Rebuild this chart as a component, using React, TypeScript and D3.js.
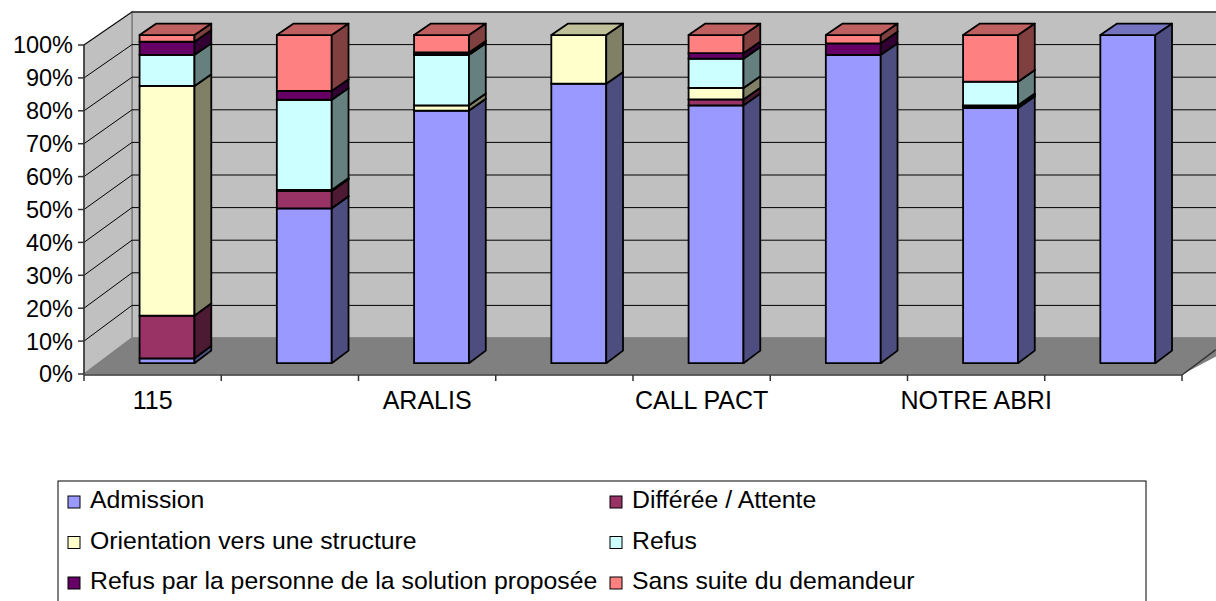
import React from 'react'
import { scaleBand, scaleLinear, stack, stackOffsetExpand, rgb, range } from 'd3'

const categories = ['115', '', 'ARALIS', '', 'CALL PACT', '', 'NOTRE ABRI', '']
const seriesNames = [
  'Admission',
  'Différée / Attente',
  'Orientation vers une structure',
  'Refus',
  'Refus par la personne de la solution proposée',
  'Sans suite du demandeur',
]
const admission = [1.5, 47.2, 77, 85.2, 78.6, 94, 77.8, 100]
const differee = [13, 5.3, 0, 0, 1.8, 0, 0.5, 0]
const orientation = [70, 0.3, 1.6, 14.8, 3.5, 0, 0.3, 0]
const refus = [9.5, 27.5, 15.4, 0, 8.9, 0, 7.2, 0]
const refusPersonne = [4, 2.7, 0.7, 0, 1.7, 3.5, 0, 0]
const sansSuite = [2, 17, 5.3, 0, 5.5, 2.5, 14.2, 0]
const yTicks = [0, 10, 20, 30, 40, 50, 60, 70, 80, 90, 100]
const colors = ['#9999FF', '#993366', '#FFFFCC', '#CCFFFF', '#660066', '#FF8080']

const W = 1216
const H = 601
const FONT = '"Liberation Sans", Arial, sans-serif'

// plot geometry (oblique 3d)
const x0 = 84, x1 = 1182
const depthX = 48
const floorFront = 374, floorBack = 338
const spanFront = 329, spanBack = 326
const zBar0 = 0.3, zBar1 = 0.65

const shade = (c: string, k: number) => {
  const r = rgb(c)
  return rgb(r.r * k, r.g * k, r.b * k).formatHex()
}

export default function App() {
  const series = [admission, differee, orientation, refus, refusPersonne, sansSuite]
  const rows = categories.map((_, i) => {
    const o: any = { i }
    series.forEach((s, k) => { o[k] = s[i] })
    return o
  })
  const stacked = stack<any>().keys(series.map((_, k) => String(k))).offset(stackOffsetExpand)(rows)

  const x = scaleBand<number>().domain(range(categories.length)).range([x0, x1])
  const pct = scaleLinear().domain([0, 100]).range([0, 1])

  // projection: value v (0..100), depth z (0 front .. 1 back)
  const Y = (v: number, z: number) => {
    const base = floorFront + (floorBack - floorFront) * z
    const span = spanFront + (spanBack - spanFront) * z
    return base - pct(v) * span
  }
  const X = (px: number, z: number) => px + z * depthX

  const pts = (arr: [number, number][]) => arr.map(p => p.join(',')).join(' ')

  const bw = x.bandwidth() * 0.4
  const backX0 = X(x0, 1)
  const backX1 = X(x1, 1)

  return (
    <svg width={W} height={H} style={{ position: 'absolute', left: 0, top: 0, background: '#fff' }}
      fontFamily={FONT}>
      {/* back wall */}
      <polygon points={pts([[backX0, Y(100, 1)], [backX1 + 20, Y(100, 1)], [backX1 + 20, Y(0, 1)], [backX0, Y(0, 1)]])}
        fill="#C0C0C0" stroke="#808080" strokeWidth={1.5} />
      {/* side wall */}
      <polygon points={pts([[x0, Y(0, 0)], [x0, Y(100, 0)], [backX0, Y(100, 1)], [backX0, Y(0, 1)]])}
        fill="#C0C0C0" stroke="#808080" strokeWidth={1.5} />
      {/* floor */}
      <polygon points={pts([[x0, Y(0, 0)], [backX0, Y(0, 1)], [backX1 + 20, Y(0, 1)], [x1, Y(0, 0)]])}
        fill="#808080" stroke="#808080" strokeWidth={1} />
      {/* gridlines */}
      {yTicks.filter(t => t > 0).map(t => (
        <g key={'g' + t}>
          <line x1={backX0} x2={backX1 + 20} y1={Y(t, 1)} y2={Y(t, 1)} stroke="#000" strokeWidth={1} />
          <line x1={x0} x2={backX0} y1={Y(t, 0)} y2={Y(t, 1)} stroke="#000" strokeWidth={1} />
        </g>
      ))}
      {/* y axis */}
      <line x1={x0} x2={x0} y1={Y(0, 0)} y2={Y(100, 0)} stroke="#333" strokeWidth={1.5} />
      {yTicks.map(t => (
        <g key={'t' + t}>
          <line x1={x0 - 6} x2={x0} y1={Y(t, 0)} y2={Y(t, 0)} stroke="#333" strokeWidth={1.5} />
          <text x={x0 - 11} y={Y(t, 0)} dy="0.36em" textAnchor="end" fontSize={23.5}>{t}%</text>
        </g>
      ))}
      {/* x axis */}
      <line x1={x0} x2={x1} y1={Y(0, 0) + 1} y2={Y(0, 0) + 1} stroke="#333" strokeWidth={1.5} />
      <line x1={x1} x2={X(x1, 0.7)} y1={Y(0, 0) + 1} y2={Y(0, 0.7) + 1} stroke="#333" strokeWidth={1.5} />
      {range(categories.length + 1).map(i => {
        const px = i < categories.length ? (x(i) as number) : x1
        return <line key={'xt' + i} x1={px} x2={px} y1={Y(0, 0) + 1} y2={Y(0, 0) + 7} stroke="#333" strokeWidth={1.5} />
      })}
      {categories.map((c, i) => (
        <text key={'xl' + i} x={(x(i) as number) + x.bandwidth() / 2} y={409} textAnchor="middle" fontSize={25}>{c}</text>
      ))}
      {/* bars */}
      {categories.map((_, i) => {
        const fx0 = (x(i) as number) + x.bandwidth() / 2 - bw / 2
        const fx1 = fx0 + bw
        return (
          <g key={'b' + i}>
            {stacked.map((s, k) => {
              const lo = s[i][0] * 100
              const hi = s[i][1] * 100
              if (hi - lo <= 0) return null
              const c = colors[k]
              const front: [number, number][] = [[X(fx0, zBar0), Y(lo, zBar0)], [X(fx1, zBar0), Y(lo, zBar0)], [X(fx1, zBar0), Y(hi, zBar0)], [X(fx0, zBar0), Y(hi, zBar0)]]
              const side: [number, number][] = [[X(fx1, zBar0), Y(lo, zBar0)], [X(fx1, zBar1), Y(lo, zBar1)], [X(fx1, zBar1), Y(hi, zBar1)], [X(fx1, zBar0), Y(hi, zBar0)]]
              const top: [number, number][] = [[X(fx0, zBar0), Y(hi, zBar0)], [X(fx1, zBar0), Y(hi, zBar0)], [X(fx1, zBar1), Y(hi, zBar1)], [X(fx0, zBar1), Y(hi, zBar1)]]
              return (
                <g key={k} stroke="#000" strokeWidth={1.8} strokeLinejoin="round">
                  <polygon points={pts(front)} fill={c} />
                  <polygon points={pts(side)} fill={shade(c, 0.5)} />
                  <polygon points={pts(top)} fill={shade(c, 0.75)} />
                </g>
              )
            })}
          </g>
        )
      })}
      {/* legend */}
      <rect x={58} y={481} width={1088} height={140} fill="#fff" stroke="#000" strokeWidth={1} />
      {seriesNames.map((n, k) => {
        const col = k % 2
        const row = Math.floor(k / 2)
        const lx = col === 0 ? 68 : 610
        const by = 508 + row * 40.5
        return (
          <g key={'l' + k}>
            <rect x={lx} y={by - 12} width={12} height={12} fill={colors[k]} stroke="#000" strokeWidth={1} />
            <text x={lx + 22} y={by} fontSize={24.8}>{n}</text>
          </g>
        )
      })}
    </svg>
  )
}
